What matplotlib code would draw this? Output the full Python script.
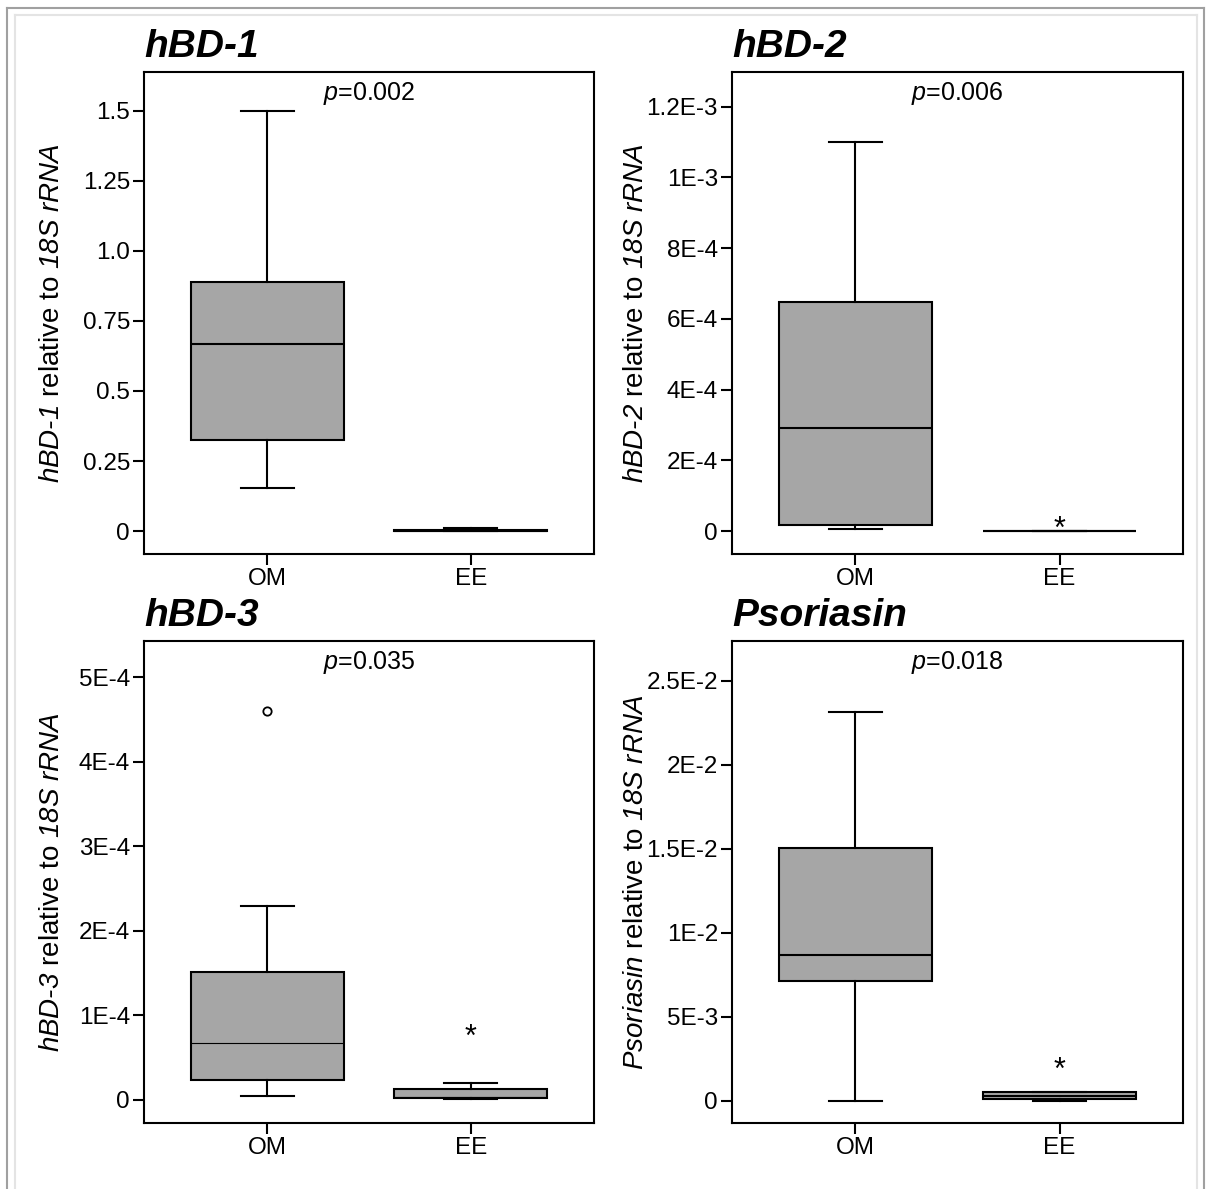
import matplotlib
matplotlib.use('Agg')
import matplotlib.pyplot as plt
from matplotlib.lines import Line2D

plt.rcParams['font.family'] = ['Liberation Sans', 'DejaVu Sans']
plt.rcParams['mathtext.fontset'] = 'custom'
# everything inside $...$ is italic, digits included
plt.rcParams['mathtext.rm'] = 'Liberation Sans:italic'
plt.rcParams['mathtext.it'] = 'Liberation Sans:italic'

groups = ['OM', 'EE']

# five-number summaries, OM then EE
hbd1_whislo = [0.155, 0.0]
hbd1_q1 = [0.325, 0.0]
hbd1_med = [0.668, 0.001]
hbd1_q3 = [0.890, 0.002]
hbd1_whishi = [1.5, 0.012]
hbd1_out = [[], []]
hbd1_ext = [[], []]

hbd2_whislo = [0.06e-4, 0.0]
hbd2_q1 = [0.17e-4, 0.0]
hbd2_med = [2.91e-4, 0.0]
hbd2_q3 = [6.47e-4, 0.0]
hbd2_whishi = [11.0e-4, 0.0]
hbd2_out = [[], []]
hbd2_ext = [[], [0.2e-4]]

hbd3_whislo = [0.05e-4, 0.01e-4]
hbd3_q1 = [0.24e-4, 0.02e-4]
hbd3_med = [0.67e-4, 0.03e-4]
hbd3_q3 = [1.51e-4, 0.13e-4]
hbd3_whishi = [2.29e-4, 0.20e-4]
hbd3_out = [[4.60e-4], []]
hbd3_ext = [[], [0.80e-4]]

pso_whislo = [0.0, 0.0]
pso_q1 = [7.14e-3, 0.1e-3]
pso_med = [8.69e-3, 0.3e-3]
pso_q3 = [15.06e-3, 0.54e-3]
pso_whishi = [23.15e-3, 0.55e-3]
pso_out = [[], []]
pso_ext = [[], [2.14e-3]]

titles = ['hBD-1', 'hBD-2', 'hBD-3', 'Psoriasin']
pvalues = ['0.002', '0.006', '0.035', '0.018']

hbd1_ticks = [0, 0.25, 0.5, 0.75, 1.0, 1.25, 1.5]
hbd1_labels = ['0', '0.25', '0.5', '0.75', '1.0', '1.25', '1.5']
hbd2_ticks = [0, 2e-4, 4e-4, 6e-4, 8e-4, 1e-3, 1.2e-3]
hbd2_labels = ['0', '2E-4', '4E-4', '6E-4', '8E-4', '1E-3', '1.2E-3']
hbd3_ticks = [0, 1e-4, 2e-4, 3e-4, 4e-4, 5e-4]
hbd3_labels = ['0', '1E-4', '2E-4', '3E-4', '4E-4', '5E-4']
pso_ticks = [0, 5e-3, 1e-2, 1.5e-2, 2e-2, 2.5e-2]
pso_labels = ['0', '5E-3', '1E-2', '1.5E-2', '2E-2', '2.5E-2']

W, H = 1208, 1189
fig = plt.figure(figsize=(W / 100, H / 100), dpi=100)


def px_axes(left, top, right, bottom):
    return fig.add_axes([left / W, 1 - bottom / H, (right - left) / W, (bottom - top) / H])


def stats_of(whislo, q1, med, q3, whishi, out):
    return [dict(whislo=whislo[i], q1=q1[i], med=med[i], q3=q3[i],
                 whishi=whishi[i], fliers=out[i]) for i in range(2)]


panels = [
    (px_axes(144, 72, 594, 554), stats_of(hbd1_whislo, hbd1_q1, hbd1_med, hbd1_q3, hbd1_whishi, hbd1_out),
     hbd1_ext, hbd1_ticks, hbd1_labels, (-0.082, 1.639), 1.5, -0.175),
    (px_axes(732, 72, 1183, 554), stats_of(hbd2_whislo, hbd2_q1, hbd2_med, hbd2_q3, hbd2_whishi, hbd2_out),
     hbd2_ext, hbd2_ticks, hbd2_labels, (-0.65e-4, 12.98e-4), 1.5, -0.185),
    (px_axes(144, 641, 594, 1123), stats_of(hbd3_whislo, hbd3_q1, hbd3_med, hbd3_q3, hbd3_whishi, hbd3_out),
     hbd3_ext, hbd3_ticks, hbd3_labels, (-0.272e-4, 5.426e-4), 0.8, -0.175),
    (px_axes(732, 641, 1183, 1123), stats_of(pso_whislo, pso_q1, pso_med, pso_q3, pso_whishi, pso_out),
     pso_ext, pso_ticks, pso_labels, (-1.31e-3, 27.38e-3), 1.5, -0.185),
]

lw = 1.5
for k, (ax, stats, ext, ticks, labels, ylim, mlw, labx) in enumerate(panels):
    ax.bxp(stats, positions=[1, 2], widths=0.75, capwidths=0.26, patch_artist=True,
           boxprops=dict(facecolor='#a6a6a6', edgecolor='black', linewidth=lw),
           whiskerprops=dict(color='black', linewidth=lw),
           capprops=dict(color='black', linewidth=lw),
           medianprops=dict(color='black', linewidth=mlw),
           flierprops=dict(marker='o', markersize=6, markerfacecolor='white',
                           markeredgecolor='black', markeredgewidth=1.3))
    # extreme values drawn as asterisks
    for i, vals in enumerate(ext):
        for v in vals:
            ax.annotate('*', (i + 1, v), xytext=(0, -4), textcoords='offset points',
                        ha='center', va='center', fontsize=22)

    ax.set_xlim(0.395, 2.605)
    ax.set_ylim(*ylim)
    ax.set_xticks([1, 2])
    ax.set_xticklabels(groups)
    ax.set_yticks(ticks)
    ax.set_yticklabels(labels)
    ax.tick_params(direction='out', length=8, width=lw, labelsize=17.5, pad=2)
    for s in ax.spines.values():
        s.set_linewidth(lw)

    name = titles[k]
    ax.set_ylabel('$' + name.replace('-', '\u2010') + '$ relative to $18S$ $rRNA$', fontsize=20)
    ax.yaxis.set_label_coords(labx, 0.5)
    ax.text(0, 1.015, name, transform=ax.transAxes, ha='left', va='bottom',
            fontsize=28, fontweight='bold', fontstyle='italic')
    ax.text(0.5, 0.955, '$p$=' + pvalues[k], transform=ax.transAxes,
            ha='center', va='center', fontsize=18)

# grey frame around the figure
for x0, y0, x1, y1, c in [(7.5, 7.5, 1204, 7.5, '#a0a0a0'), (7.5, 7.5, 7.5, H, '#a0a0a0'),
                          (1204, 7.5, 1204, H, '#a0a0a0'),
                          (15, 15, 1197, 15, '#e4e4e4'), (15, 15, 15, H, '#e4e4e4'),
                          (1197, 15, 1197, H, '#e4e4e4')]:
    fig.add_artist(Line2D([x0 / W, x1 / W], [1 - y0 / H, 1 - y1 / H], color=c, linewidth=1.5,
                          transform=fig.transFigure))

fig.savefig('out.png', dpi=100)
